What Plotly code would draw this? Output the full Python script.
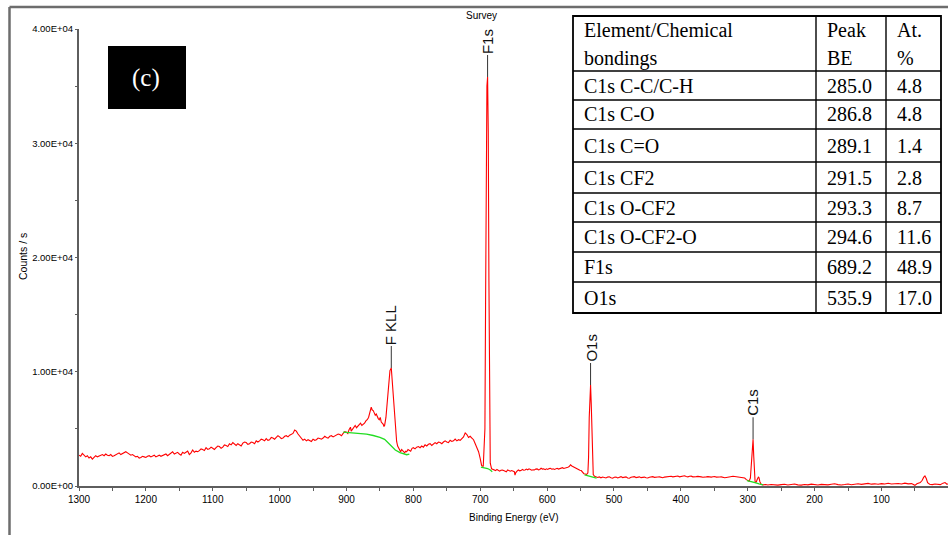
import plotly.graph_objects as go

# ---- survey spectrum: binding energy (eV) vs. intensity (counts/s) ----
# high-BE inelastic background
seg_a_be = [
    1300, 1297.5, 1295, 1292.5, 1290, 1287.5, 1285, 1282.5, 1280, 1277.5,
    1275, 1272.5, 1270, 1267.5, 1265, 1262.5, 1260, 1257.5, 1255, 1252.5,
    1250, 1247.5, 1245, 1242.5, 1240, 1237.5, 1235, 1232.5, 1230, 1227.5,
    1225, 1222.5, 1220, 1217.5, 1215, 1212.5, 1210, 1207.5, 1205, 1202.5,
    1200, 1197.5, 1195, 1192.5, 1190, 1187.5, 1185, 1182.5, 1180, 1177.5,
    1175, 1172.5, 1170, 1167.5, 1165, 1162.5, 1160, 1157.5, 1155, 1152.5,
    1150, 1147.5, 1145, 1142.5, 1140, 1137.5, 1135, 1132.5, 1130, 1127.5,
    1125, 1122.5, 1120, 1117.5, 1115, 1112.5, 1110, 1107.5, 1105, 1102.5,
    1100, 1097.5, 1095, 1092.5, 1090, 1087.5, 1085, 1082.5, 1080, 1077.5,
    1075, 1072.5, 1070, 1067.5, 1065, 1062.5, 1060, 1057.5, 1055, 1052.5,
    1050, 1047.5, 1045, 1042.5, 1040, 1037.5, 1035, 1032.5, 1030, 1027.5,
    1025, 1022.5, 1020, 1017.5, 1015, 1012.5, 1010, 1007.5, 1005, 1002.5,
    1000, 997.5, 995, 992.5, 990, 987.5, 985, 982.5, 980, 977.5,
    975, 972.5, 970, 967.5, 965, 962.5,
]
seg_a_cps = [
    2700, 2600, 2850, 2700, 2550, 2650, 2450, 2550, 2350, 2500,
    2650, 2550, 2600, 2700, 2750, 2650, 2800, 2700, 2650, 2750,
    2600, 2650, 2750, 2850, 2900, 2750, 2850, 2950, 3000, 2900,
    2800, 2700, 2750, 2650, 2550, 2600, 2450, 2500, 2600, 2550,
    2500, 2600, 2650, 2550, 2600, 2700, 2550, 2650, 2700, 2600,
    2650, 2750, 2800, 2650, 2750, 2900, 3000, 2800, 2850, 2950,
    2800, 2700, 2950, 2850, 2950, 3050, 2750, 2900, 3150, 2950,
    3050, 3000, 3100, 3250, 3200, 3100, 3350, 3200, 3250, 3400,
    3300, 3200, 3350, 3500, 3450, 3300, 3400, 3600, 3550, 3450,
    3700, 3600, 3800, 3650, 3550, 3700, 3600, 3500, 3750, 3850,
    3800, 3650, 3700, 3850, 3800, 3700, 3950, 3850, 3950, 4100,
    4050, 3950, 4150, 4000, 4050, 4250, 4200, 4100, 4250, 4400,
    4300, 4150, 4200, 4350, 4400, 4300, 4450, 4550, 4600, 4900,
    4800, 4550, 4350, 4150, 4000, 4100,
]

# F KLL Auger region down to the F1s onset
seg_b_be = [
    960, 957.5, 955, 952.5, 950, 947.5, 945, 942.5, 940, 937.5,
    935, 932.5, 930, 927.5, 925, 922.5, 920, 917.5, 915, 912.5,
    910, 907.5, 905, 902.5, 900, 898, 896, 894, 893, 891,
    889, 887, 885, 883, 881, 879, 877, 875, 873, 871,
    869, 867, 866, 864.5, 863, 861.5, 860, 858.5, 857, 855.5,
    854, 852.5, 851, 849.5, 848, 846.5, 845, 844, 843, 841,
    839, 837, 835, 833, 831, 829, 827, 825, 823.5, 822,
    820.5, 819, 817.5, 816, 814.5, 813, 811.5, 810, 808, 806,
    804, 802, 800, 797.5, 795, 792.5, 790, 787.5, 785, 782.5,
    780, 777.5, 775, 772.5, 770, 767.5, 765, 762.5, 760, 757.5,
    755, 752.5, 750, 747.5, 745, 742.5, 740, 737.5, 735, 732.5,
    730, 727.5, 725, 722.5, 720, 717.5, 715, 712.5, 710, 707.5,
    705, 702.5, 700, 698, 695.5,
]
seg_b_cps = [
    3950, 4050, 4000, 3900, 4100, 4000, 4050, 4200, 4150, 4100,
    4200, 4350, 4250, 4200, 4350, 4400, 4300, 4400, 4450, 4550,
    4500, 4400, 4600, 4750, 4700, 4600, 4950, 5150, 4800, 4950,
    5200, 5300, 5100, 5250, 5350, 5500, 5300, 5400, 5500, 5700,
    5800, 6000, 6300, 6700, 6900, 6650, 6600, 6400, 6200, 6300,
    6000, 5900, 5800, 6000, 5600, 5500, 5400, 5200, 5300, 6000,
    7500, 9200, 10100, 10330, 8700, 6500, 5000, 3900, 3500, 3300,
    3150, 3000, 3200, 3100, 2950, 2900, 3050, 3000, 3200, 3150,
    3050, 3300, 3350, 3250, 3400, 3450, 3350, 3500, 3400, 3600,
    3500, 3650, 3700, 3550, 3650, 3800, 3700, 3850, 3800, 3700,
    3850, 3950, 3850, 3800, 4000, 3900, 3950, 4100, 3950, 4050,
    4000, 4150, 4300, 4650, 4500, 4250, 4350, 4200, 4050, 3700,
    3400, 3000, 2400, 1800, 1700,
]

# F1s photoelectron line
f1s_be = [693, 692, 691, 690, 689, 688, 687, 686, 685]
f1s_cps = [5000, 16000, 30000, 35000, 35800, 31000, 18000, 6000, 2000]

# plateau between F1s and O1s
seg_c_be = [
    683, 681, 679, 677, 675, 673, 671, 669, 667, 665,
    663, 661, 659, 657, 655, 653, 651, 649, 648, 647,
    645, 643, 641, 639, 637, 635, 633, 631, 629, 627,
    625, 623, 621, 619, 617, 615, 613, 611, 609, 607,
    605, 603, 601, 599, 597, 595, 593, 591, 589, 587,
    585, 583, 581, 579, 577, 575, 573, 571, 569, 567,
    565, 563, 561, 559, 557, 555, 553, 551, 549, 547,
    545, 543, 541, 539,
]
seg_c_cps = [
    1500, 1450, 1380, 1350, 1450, 1400, 1300, 1380, 1400, 1350,
    1300, 1250, 1400, 1350, 1300, 1350, 1280, 1250, 950, 1150,
    1300, 1400, 1330, 1350, 1450, 1380, 1400, 1480, 1420, 1500,
    1450, 1380, 1420, 1400, 1480, 1500, 1420, 1450, 1550, 1480,
    1500, 1430, 1500, 1450, 1520, 1550, 1470, 1500, 1450, 1530,
    1550, 1480, 1500, 1560, 1600, 1530, 1550, 1600, 1650, 1700,
    1850, 1750, 1680, 1600, 1580, 1520, 1450, 1380, 1350, 1200,
    1080, 1050, 1000, 1150,
]

# O1s photoelectron line
o1s_be = [538, 537, 536, 535, 534, 533, 532, 531]
o1s_cps = [2500, 6000, 8300, 8840, 7200, 4500, 1800, 1000]

# plateau between O1s and C1s
seg_d_be = [
    529, 527, 524.5, 522, 519.5, 517, 514.5, 512, 509.5, 507,
    504.5, 502, 499.5, 497, 494.5, 492, 489.5, 487, 484.5, 482,
    479.5, 477, 474.5, 472, 469.5, 467, 464.5, 462, 459.5, 457,
    454.5, 452, 449.5, 447, 444.5, 442, 439.5, 437, 434.5, 432,
    429.5, 427, 424.5, 422, 419.5, 417, 414.5, 412, 409.5, 407,
    404.5, 402, 399.5, 397, 394.5, 392, 389.5, 387, 384.5, 382,
    379.5, 377, 374.5, 372, 369.5, 367, 364.5, 362, 359.5, 357,
    354.5, 352, 349.5, 347, 344.5, 342, 339.5, 337, 334.5, 332,
    329.5, 327, 324.5, 322, 319.5, 317, 314.5, 312, 309.5, 307,
    304.5, 302, 300, 298,
]
seg_d_cps = [
    850, 780, 750, 800, 720, 780, 760, 700, 780, 810,
    730, 680, 760, 790, 700, 760, 820, 740, 770, 800,
    700, 680, 760, 800, 820, 740, 770, 800, 730, 760,
    780, 720, 700, 760, 800, 820, 760, 750, 790, 800,
    740, 720, 780, 800, 780, 830, 850, 800, 820, 860,
    870, 800, 820, 880, 900, 830, 800, 850, 860, 800,
    780, 820, 840, 790, 800, 770, 760, 800, 820, 790,
    780, 810, 830, 780, 760, 790, 800, 760, 720, 750,
    780, 830, 860, 850, 830, 810, 800, 780, 760, 730,
    700, 560, 450, 420,
]

# C1s envelope
c1s_be = [296, 295, 294, 293, 292, 291, 290, 289, 288, 287, 286, 285, 284, 283, 282, 280]
c1s_cps = [700, 1500, 2800, 3800, 4090, 2600, 900, 400, 320, 380, 550, 750, 800, 700, 400, 150]

# low-BE tail (valence / F2s)
seg_e_be = [
    277, 273, 270, 265, 260, 255, 250, 245, 240, 235,
    230, 225, 220, 215, 210, 205, 200, 195, 190, 185,
    180, 175, 170, 165, 160, 155, 150, 145, 140, 135,
    130, 125, 120, 115, 110, 105, 100, 95, 90, 85,
    80, 75, 70, 65, 60, 55, 50, 47, 42, 39,
    37, 35, 33, 31, 28, 24, 20, 16, 12, 8,
    5, 2, 1,
]
seg_e_cps = [
    100, 130, 90, 130, 100, 80, 120, 150, 90, 110,
    170, 100, 80, 130, 100, 160, 120, 90, 140, 110,
    100, 150, 200, 120, 90, 130, 180, 110, 150, 200,
    140, 170, 230, 160, 190, 150, 210, 170, 240, 180,
    200, 220, 170, 250, 190, 210, 60, 200, 300, 500,
    750, 880, 650, 300, 150, 120, 180, 140, 120, 250,
    300, 150, 200,
]

be = seg_a_be + seg_b_be + f1s_be + seg_c_be + o1s_be + seg_d_be + c1s_be + seg_e_be
cps = seg_a_cps + seg_b_cps + f1s_cps + seg_c_cps + o1s_cps + seg_d_cps + c1s_cps + seg_e_cps

# ---- backgrounds under the fitted regions ----
bg_fkll_be = [905, 895, 885, 870, 860, 850, 843, 838, 833, 827, 820, 814, 810, 806]
bg_fkll_cps = [4720, 4680, 4630, 4550, 4420, 4260, 4080, 3760, 3480, 3150, 2920, 2780, 2740, 2800]
bg_f1s_be = [699, 694, 689, 685, 682]
bg_f1s_cps = [1650, 1600, 1530, 1400, 1250]
bg_o1s_be = [544, 538, 533, 526]
bg_o1s_cps = [980, 880, 780, 680]
bg_c1s_be = [301, 295, 289, 283, 277]
bg_c1s_cps = [470, 400, 300, 180, 90]

# ---- peak markers ----
peak_names = ["F1s", "F KLL", "O1s", "C1s"]
peak_be = [689, 833, 535, 292]

# ---- axis ticks ----
x_tickvals = [1300, 1200, 1100, 1000, 900, 800, 700, 600, 500, 400, 300, 200, 100]
y_tickvals = [0, 10000, 20000, 30000, 40000]
y_ticktext = ["0.00E+00", "1.00E+04", "2.00E+04", "3.00E+04", "4.00E+04"]
y_minorvals = [5000, 15000, 25000, 35000]

# ---- quantification table ----
tbl_header = [["Element/Chemical", "bondings"], ["Peak", "BE"], ["At.", "%"]]
tbl_element = ["C1s C-C/C-H", "C1s C-O", "C1s C=O", "C1s CF2",
               "C1s O-CF2", "C1s O-CF2-O", "F1s", "O1s"]
tbl_be = ["285.0", "286.8", "289.1", "291.5", "293.3", "294.6", "689.2", "535.9"]
tbl_at = ["4.8", "4.8", "1.4", "2.8", "8.7", "11.6", "48.9", "17.0"]

# ---- page geometry (pixels) ----
W, H = 948, 535
ML, MR, MT, MB = 79, 0, 29, 49
PW = W - ML - MR
PH = H - MT - MB


def fx(x):
    """pixel x -> paper x"""
    return (x - ML) / PW


def fy(y):
    """pixel y (from top) -> paper y"""
    return (H - MB - y) / PH


SANS = "Liberation Sans, Arial, sans-serif"
SERIF = "Liberation Serif, Times New Roman, serif"
AXIS_GRAY = "#5e5e5e"

fig = go.Figure()

fig.add_trace(go.Scatter(x=be, y=cps, mode="lines",
                         line=dict(color="#ff0000", width=1.1),
                         hoverinfo="skip", showlegend=False))

for bx, by in [(bg_fkll_be, bg_fkll_cps), (bg_f1s_be, bg_f1s_cps),
               (bg_o1s_be, bg_o1s_cps), (bg_c1s_be, bg_c1s_cps)]:
    fig.add_trace(go.Scatter(x=bx, y=by, mode="lines",
                             line=dict(color="#22dd22", width=1.3),
                             hoverinfo="skip", showlegend=False))

shapes = []
annotations = []

# peak labels with leader lines
for name, pb in zip(peak_names, peak_be):
    top = max(c for b, c in zip(be, cps) if abs(b - pb) <= 3)
    shapes.append(dict(type="line", xref="x", yref="y", ysizemode="pixel",
                       yanchor=top, x0=pb, x1=pb, y0=0, y1=22,
                       line=dict(color="#333333", width=1)))
    annotations.append(dict(x=pb, y=top, xref="x", yref="y", text=name,
                            textangle=-90, showarrow=False, yanchor="bottom",
                            xanchor="center", yshift=22, borderpad=0,
                            font=dict(family=SANS, size=15, color="#111111")))

# outer frame lines
shapes.append(dict(type="line", xref="paper", yref="paper",
                   x0=fx(9.5), x1=fx(W), y0=fy(7), y1=fy(7),
                   line=dict(color="#6d6d6d", width=2.5)))
shapes.append(dict(type="line", xref="paper", yref="paper",
                   x0=fx(9.5), x1=fx(9.5), y0=fy(7), y1=fy(H),
                   line=dict(color="#6d6d6d", width=2.5)))

# panel tag
shapes.append(dict(type="rect", xref="paper", yref="paper",
                   x0=fx(108), x1=fx(186), y0=fy(109), y1=fy(46),
                   fillcolor="black", line=dict(width=0)))
annotations.append(dict(x=fx(146), y=fy(78), xref="paper", yref="paper",
                        text="(c)", showarrow=False, xanchor="center",
                        yanchor="middle",
                        font=dict(family=SERIF, size=25, color="white")))

# titles
annotations.append(dict(x=fx(481), y=fy(15.5), xref="paper", yref="paper",
                        text="Survey", showarrow=False, xanchor="center",
                        yanchor="middle",
                        font=dict(family=SANS, size=10, color="black")))
annotations.append(dict(x=fx(514), y=fy(517), xref="paper", yref="paper",
                        text="Binding Energy (eV)", showarrow=False,
                        xanchor="center", yanchor="middle",
                        font=dict(family=SANS, size=10, color="black")))
annotations.append(dict(x=fx(23), y=fy(256), xref="paper", yref="paper",
                        text="Counts / s", showarrow=False, textangle=-90,
                        xanchor="center", yanchor="middle",
                        font=dict(family=SANS, size=10.5, color="black")))

# table grid
col_x = [573, 816, 886, 941]
row_y = [16, 71, 100, 129, 162, 193, 222, 252, 282, 313]
shapes.append(dict(type="rect", xref="paper", yref="paper",
                   x0=fx(col_x[0]), x1=fx(col_x[-1]),
                   y0=fy(row_y[-1]), y1=fy(row_y[0]),
                   fillcolor="white", line=dict(color="black", width=1.8)))
for cx in col_x[1:-1]:
    shapes.append(dict(type="line", xref="paper", yref="paper",
                       x0=fx(cx), x1=fx(cx), y0=fy(row_y[0]), y1=fy(row_y[-1]),
                       line=dict(color="black", width=1.4)))
for ry in row_y[1:-1]:
    shapes.append(dict(type="line", xref="paper", yref="paper",
                       x0=fx(col_x[0]), x1=fx(col_x[-1]), y0=fy(ry), y1=fy(ry),
                       line=dict(color="black", width=1.4)))

# table text
pad = 9
for ci, lines in enumerate(tbl_header):
    for li, txt in enumerate(lines):
        annotations.append(dict(x=fx(col_x[ci] + pad), y=fy(30 + 28 * li),
                                xref="paper", yref="paper", text=txt,
                                showarrow=False, xanchor="left", yanchor="middle",
                                font=dict(family=SERIF, size=20, color="black")))
for ri, row in enumerate(zip(tbl_element, tbl_be, tbl_at)):
    yc = (row_y[ri + 1] + row_y[ri + 2]) / 2
    for ci, txt in enumerate(row):
        annotations.append(dict(x=fx(col_x[ci] + pad), y=fy(yc),
                                xref="paper", yref="paper", text=txt,
                                showarrow=False, xanchor="left", yanchor="middle",
                                font=dict(family=SERIF, size=20, color="black")))

fig.update_layout(
    width=W, height=H,
    margin=dict(l=ML, r=MR, t=MT, b=MB, pad=0),
    paper_bgcolor="white", plot_bgcolor="white",
    showlegend=False,
    shapes=shapes, annotations=annotations,
    xaxis=dict(range=[1300, 0.5], tickmode="array", tickvals=x_tickvals,
               showline=True, linecolor=AXIS_GRAY, linewidth=2,
               ticks="outside", ticklen=3, tickwidth=1, tickcolor=AXIS_GRAY,
               minor=dict(dtick=50, tick0=0, ticks="outside", ticklen=3,
                          tickwidth=1, tickcolor=AXIS_GRAY, showgrid=False),
               showgrid=False, zeroline=False,
               tickfont=dict(family=SANS, size=10, color="black")),
    yaxis=dict(range=[0, 40000], tickmode="array", tickvals=y_tickvals,
               ticktext=y_ticktext,
               showline=True, linecolor=AXIS_GRAY, linewidth=2,
               ticks="outside", ticklen=2, tickwidth=1, tickcolor=AXIS_GRAY,
               minor=dict(tickmode="array", tickvals=y_minorvals,
                          ticks="outside", ticklen=2, tickwidth=1,
                          tickcolor=AXIS_GRAY, showgrid=False),
               showgrid=False, zeroline=False,
               tickfont=dict(family=SANS, size=9.5, color="black")),
)

fig.write_html("out.html")
